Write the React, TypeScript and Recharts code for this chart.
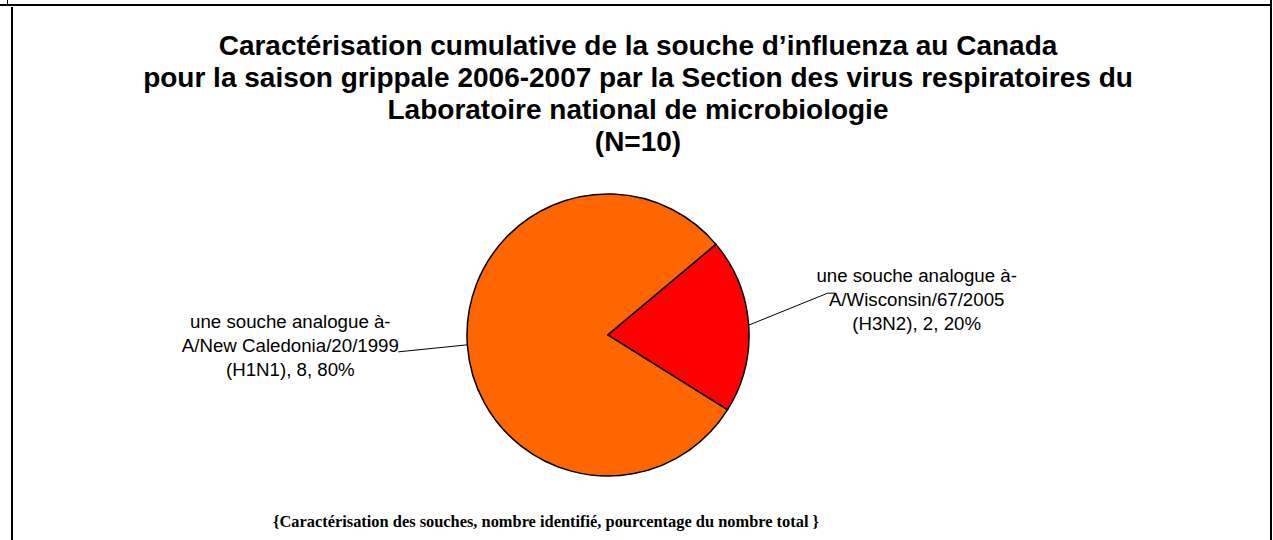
import { PieChart, Pie, Cell } from "recharts";

const categoryLines: string[][] = [
  ["une souche analogue à-", "A/New Caledonia/20/1999", "(H1N1)"],
  ["une souche analogue à-", "A/Wisconsin/67/2005", "(H3N2)"],
];
const counts = [8, 2];
const sliceColors = ["#FF6600", "#FF0000"];

const titleLines = [
  "Caractérisation cumulative de la souche d’influenza au Canada",
  "pour la saison grippale 2006-2007 par la Section des virus respiratoires du",
  "Laboratoire national de microbiologie",
  "(N=10)",
];
const footnote =
  "{Caractérisation des souches, nombre identifié, pourcentage du nombre total }";

const total = counts.reduce((a, b) => a + b, 0);
const data = categoryLines.map((lines, i) => ({
  name: lines.join(" "),
  lines,
  value: counts[i],
  pct: Math.round((counts[i] / total) * 100),
}));

const RAD = Math.PI / 180;
const labelFont = '"Liberation Sans", Arial, sans-serif';

// per-slice label placement relative to the point on the rim
const labelLayout = [
  { textDx: -177, textDy: 0, lineDx: -69, lineDy: 7, tail: 0 },
  { textDx: 168, textDy: -26, lineDx: 79, lineDy: -32, tail: 8 },
];

const renderLabel = (props: any) => {
  const { cx, cy, midAngle, outerRadius, index } = props;
  const d = data[index];
  const lay = labelLayout[index];
  const ex = cx + outerRadius * Math.cos(-midAngle * RAD);
  const ey = cy + outerRadius * Math.sin(-midAngle * RAD);
  const tx = ex + lay.textDx;
  const midY = ey + lay.textDy;
  const lines = [d.lines[0], d.lines[1], `${d.lines[2]}, ${d.value}, ${d.pct}%`];
  const lx = ex + lay.lineDx;
  const ly = ey + lay.lineDy;
  const pts = lay.tail
    ? `${ex},${ey} ${lx},${ly} ${lx + lay.tail},${ly}`
    : `${ex},${ey} ${lx},${ly}`;
  return (
    <g key={`lab-${index}`}>
      <polyline points={pts} fill="none" stroke="#000" strokeWidth={1} />
      {lines.map((t, k) => (
        <text
          key={k}
          x={tx}
          y={midY + (k - 1) * 24 + 7}
          textAnchor="middle"
          fontFamily={labelFont}
          fontSize={18.7}
          fill="#000"
        >
          {t}
        </text>
      ))}
    </g>
  );
};

export default function App() {
  return (
    <div style={{ position: "absolute", left: 0, top: 0, width: 1273, height: 540, background: "#fff" }}>
      {/* frame lines */}
      <div style={{ position: "absolute", left: 0, top: 4, width: 1271, height: 2, background: "#000" }} />
      <div style={{ position: "absolute", left: 7, top: 0, width: 1, height: 5, background: "#000" }} />
      <div style={{ position: "absolute", left: 1270, top: 0, width: 2, height: 540, background: "#000" }} />
      <div style={{ position: "absolute", left: 11, top: 7, width: 2, height: 533, background: "#000" }} />

      <svg width={1273} height={540} style={{ position: "absolute", left: 0, top: 0 }}>
        {titleLines.map((t, i) => (
          <text
            key={i}
            x={638}
            y={55 + i * 32}
            textAnchor="middle"
            fontFamily={labelFont}
            fontWeight="bold"
            fontSize={28}
            fill="#000"
          >
            {t}
          </text>
        ))}
        <text
          x={546}
          y={527}
          textAnchor="middle"
          fontFamily='"Liberation Serif", "Times New Roman", serif'
          fontWeight="bold"
          fontSize={16.4}
          fill="#000"
        >
          {footnote}
        </text>
      </svg>

      <div style={{ position: "absolute", left: 0, top: 0 }}>
        <PieChart width={1273} height={540} margin={{ top: 0, right: 0, bottom: 0, left: 0 }}>
          <Pie
            data={data}
            dataKey="value"
            nameKey="name"
            cx={608}
            cy={335}
            outerRadius={141}
            startAngle={328}
            endAngle={-32}
            stroke="#000"
            strokeWidth={1.5}
            label={renderLabel}
            labelLine={false}
            isAnimationActive={false}
          >
            {data.map((_, i) => (
              <Cell key={`c-${i}`} fill={sliceColors[i]} />
            ))}
          </Pie>
        </PieChart>
      </div>
    </div>
  );
}
